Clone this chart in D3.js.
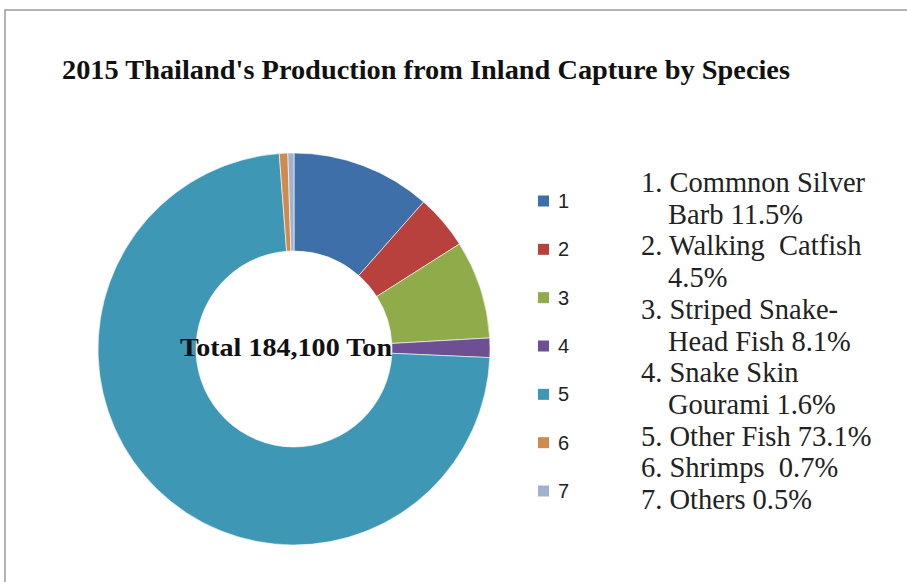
<!DOCTYPE html>
<html>
<head>
<meta charset="utf-8">
<script src="https://cdn.jsdelivr.net/npm/d3@7"></script>
<style>
  body { margin: 0; background: #fff; }
  svg { display: block; }
  .serif { font-family: 'Liberation Serif', 'Times New Roman', serif; }
</style>
</head>
<body>
<svg id="svg" width="907" height="582"></svg>
<script>
const species = ['1', '2', '3', '4', '5', '6', '7']
const shares = [11.5, 4.5, 8.1, 1.6, 73.1, 0.7, 0.5]
const colors = ['#3f6fa8', '#b8413e', '#8fab4a', '#6f4f93', '#3d97b5', '#d08a4d', '#9fb3cf']
const notes = [
    ['1. Commnon Silver', 'Barb 11.5%'],
    ['2. Walking  Catfish', '4.5%'],
    ['3. Striped Snake-', 'Head Fish 8.1%'],
    ['4. Snake Skin', 'Gourami 1.6%'],
    ['5. Other Fish 73.1%'],
    ['6. Shrimps  0.7%'],
    ['7. Others 0.5%']
]
const title = "2015 Thailand's Production from Inland Capture by Species"
const total = 'Total 184,100 Ton'

const svg = d3.select('#svg')

// frame (only top and left edges show in the picture)
svg.append('path')
    .attr('d', 'M5,582 V10 H907')
    .attr('fill', 'none')
    .attr('stroke', '#9a9a9a')
    .attr('stroke-width', 1.5)

svg.append('text')
    .attr('class', 'serif')
    .attr('x', 62)
    .attr('y', 79)
    .attr('font-weight', 'bold')
    .attr('font-size', 27)
    .attr('textLength', 728)
    .attr('lengthAdjust', 'spacingAndGlyphs')
    .attr('fill', '#111')
    .text(title)

// donut
const cx = 294, cy = 349
const pie = d3.pie().sort(null).value((d) => d)
const arc = d3.arc().innerRadius(98).outerRadius(196)

svg.append('g')
    .attr('transform', `translate(${cx},${cy})`)
    .selectAll('path')
    .data(pie(shares))
    .enter()
    .append('path')
    .attr('d', arc)
    .attr('fill', (d, i) => colors[i])
    .attr('stroke', '#fff')
    .attr('stroke-width', 0.6)

svg.append('text')
    .attr('class', 'serif')
    .attr('x', 180)
    .attr('y', 356)
    .attr('font-weight', 'bold')
    .attr('font-size', 25)
    .attr('textLength', 212)
    .attr('lengthAdjust', 'spacingAndGlyphs')
    .attr('fill', '#111')
    .text(total)

// legend
const ly = d3.scalePoint().domain(species).range([201, 491])
const legend = svg.append('g')
    .selectAll('g')
    .data(species)
    .enter()
    .append('g')
    .attr('transform', (d) => `translate(538,${ly(d)})`)
legend.append('rect')
    .attr('x', 0)
    .attr('y', -5.5)
    .attr('width', 11)
    .attr('height', 11)
    .attr('fill', (d, i) => colors[i])
legend.append('text')
    .attr('x', 20)
    .attr('y', 7)
    .attr('font-family', 'Liberation Sans, Arial, sans-serif')
    .attr('font-size', 20)
    .attr('fill', '#222')
    .text((d) => d)

// description list
const lines = []
notes.forEach((n) => n.forEach((t, j) => lines.push({ t: t, indent: j > 0 })))
const ty = d3.scaleLinear().domain([0, lines.length - 1]).range([192, 509])
svg.append('g')
    .selectAll('text')
    .data(lines)
    .enter()
    .append('text')
    .attr('class', 'serif')
    .attr('x', (d) => d.indent ? 668 : 641)
    .attr('y', (d, i) => ty(i))
    .attr('font-size', 28.5)
    .attr('fill', '#222')
    .style('white-space', 'pre')
    .text((d) => d.t)
</script>
</body>
</html>
